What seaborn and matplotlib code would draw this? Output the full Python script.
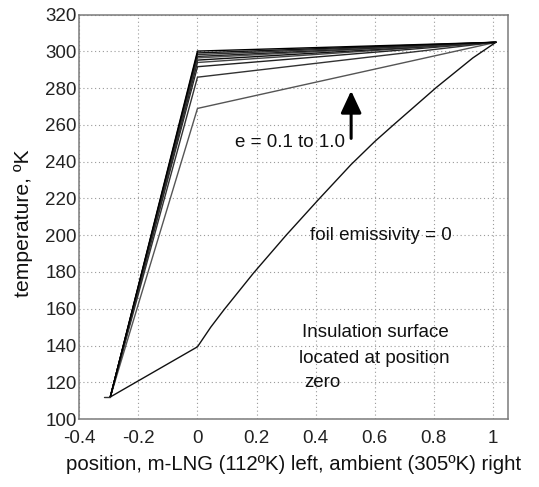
import numpy as np
import pandas as pd
import matplotlib
matplotlib.use("Agg")
import matplotlib.pyplot as plt
import seaborn as sns

# ---- data ----
emissivity = [0.1, 0.2, 0.3, 0.4, 0.5, 0.6, 0.7, 0.8, 0.9, 1.0]
surface_T = [269.0, 286.0, 291.7, 294.0, 295.3, 296.5, 297.3, 298.3, 299.2, 300.2]
line_colors = ["#555555", "#333333", "#222222", "#444444", "#111111",
               "#555555", "#222222", "#333333", "#111111", "#000000"]
x_cold = -0.295
x_surface = 0.0
x_ambient = 1.01
T_cold = 112.0
T_ambient = 305.0
stub_x = [-0.315, -0.295]
stub_T = [112.0, 112.0]

foil0_x = [-0.295, 0.0, 0.045, 0.09, 0.19, 0.30, 0.41, 0.52, 0.60, 0.663, 0.809, 0.932, 1.01]
foil0_T = [112.0, 139.3, 150.0, 159.5, 179.5, 200.0, 219.5, 238.5, 251.0, 260.0, 280.5, 296.5, 305.0]

xticks = [-0.4, -0.2, 0, 0.2, 0.4, 0.6, 0.8, 1]
xticklabels = ["-0.4", "-0.2", "0", "0.2", "0.4", "0.6", "0.8", "1"]
yticks = list(range(100, 321, 20))

arrow_x = 0.52
arrow_T = [252.7, 278.6]

# ---- build long-form table ----
rows = []
for e, ts in zip(emissivity, surface_T):
    for x, t in zip([x_cold, x_surface, x_ambient], [T_cold, ts, T_ambient]):
        rows.append({"series": f"e={e}", "x": x, "T": t})
for x, t in zip(foil0_x, foil0_T):
    rows.append({"series": "e=0", "x": x, "T": t})
for x, t in zip(stub_x, stub_T):
    rows.append({"series": "stub", "x": x, "T": t})
df = pd.DataFrame(rows)

sns.set_theme(style="white")
plt.rcParams["font.family"] = ["Liberation Sans", "DejaVu Sans"]

fig = plt.figure(figsize=(5.39, 4.87), dpi=100)
ax = fig.add_axes([0.1471, 0.1396, 0.7949, 0.8302])

palette = {f"e={e}": c for e, c in zip(emissivity, line_colors)}
palette["e=0"] = "#111111"
palette["stub"] = "#333333"

sns.lineplot(data=df, x="x", y="T", hue="series", units="series", estimator=None,
             sort=False, palette=palette, linewidth=1.0, legend=False, ax=ax)

FS = 13.5
LFS = 14.7
ax.set_xlim(-0.4, 1.05)
ax.set_ylim(100, 320)
ax.set_xticks(xticks)
ax.set_xticklabels(xticklabels)
ax.set_yticks(yticks)
ax.tick_params(axis="both", labelsize=FS, labelcolor="#222222", direction="in",
               length=3, color="#777777")
ax.tick_params(axis="x", pad=8)
ax.tick_params(axis="y", pad=2)
ax.grid(True, linestyle=(0, (1, 2.5)), color="#9a9a9a", linewidth=0.8)
for s in ax.spines.values():
    s.set_color("#7a7a7a")
    s.set_linewidth(1.1)

ax.set_xlabel("position, m-LNG (112ºK) left, ambient (305ºK) right",
              fontsize=LFS, color="#111111", labelpad=6)
ax.set_ylabel("temperature, ºK", fontsize=LFS + 0.5, color="#111111")
ax.yaxis.set_label_coords(-0.108, 0.485)

ax.text(0.5, 250.4, "e = 0.1 to 1.0", fontsize=FS, ha="right", va="center",
        color="#111111")
ax.annotate("", xy=(arrow_x, arrow_T[1]), xytext=(arrow_x, arrow_T[0]),
            arrowprops=dict(arrowstyle="-|>,head_length=0.75,head_width=0.35",
                            lw=2.2, color="black", mutation_scale=18,
                            shrinkA=0, shrinkB=0))
ax.text(0.38, 199.6, "foil emissivity = 0", fontsize=FS, ha="left", va="center",
        color="#111111")
ax.text(0.355, 147.2, "Insulation surface", fontsize=FS, ha="left", va="center",
        color="#111111")
ax.text(0.345, 133.0, "located at position", fontsize=FS, ha="left", va="center",
        color="#111111")
ax.text(0.36, 119.7, "zero", fontsize=FS, ha="left", va="center",
        color="#111111")

fig.savefig("out.png", dpi=100)
